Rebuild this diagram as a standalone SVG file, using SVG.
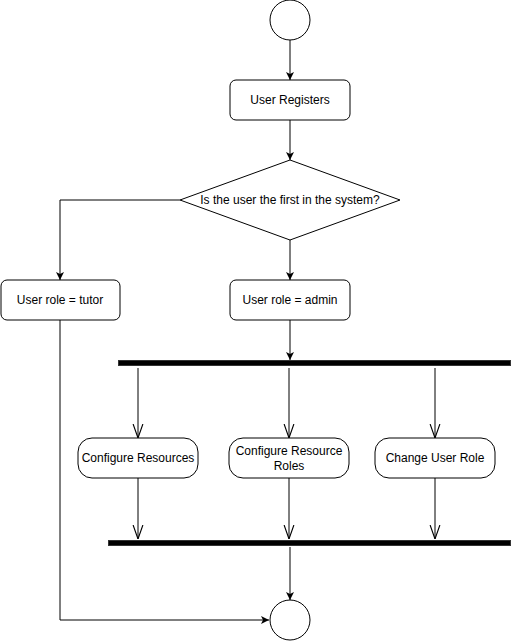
<svg xmlns="http://www.w3.org/2000/svg" width="513" height="641" viewBox="0 0 513 641">
<style>
.n{fill:#fff;stroke:#000;stroke-width:1}
.t{font-family:"Liberation Sans",Arial,sans-serif;font-size:12px;fill:#000;text-anchor:middle}
.c{fill:none;stroke:#000;stroke-width:1}
.bar{fill:#000;stroke:#333;stroke-width:1}
</style>
<defs>
<marker id="f" viewBox="0 0 10 10" refX="10" refY="5" markerWidth="8" markerHeight="8" markerUnits="userSpaceOnUse" orient="auto">
<path d="M0,0 L10,5 L0,10 L2.5,5 Z" fill="#000"/>
</marker>
<marker id="o" viewBox="0 0 10 10" refX="10" refY="5" markerWidth="14" markerHeight="14" markerUnits="userSpaceOnUse" orient="auto">
<path d="M0,1.5 L10,5 L0,8.5" fill="none" stroke="#000" stroke-width="0.8"/>
</marker>
</defs>
<g id="connectors">
<path class="c" d="M290,40 V80" marker-end="url(#f)"/>
<path class="c" d="M290,120 V160" marker-end="url(#f)"/>
<path class="c" d="M180,200 H60 V280" marker-end="url(#f)"/>
<path class="c" d="M290,240 V280" marker-end="url(#f)"/>
<path class="c" d="M290,320 V360" marker-end="url(#f)"/>
<path class="c" d="M138,368 V438" marker-end="url(#o)"/>
<path class="c" d="M289,368 V438" marker-end="url(#o)"/>
<path class="c" d="M435,368 V438" marker-end="url(#o)"/>
<path class="c" d="M138,478 V539" marker-end="url(#o)"/>
<path class="c" d="M289,478 V539" marker-end="url(#o)"/>
<path class="c" d="M435,478 V539" marker-end="url(#o)"/>
<path class="c" d="M290,547 V600" marker-end="url(#f)"/>
<path class="c" d="M60,320 V620 H269" marker-end="url(#f)"/>
</g>
<g id="start"><circle class="n" cx="290" cy="20" r="20"/></g>
<g id="register"><rect class="n" x="230" y="80" width="120" height="40" rx="6"/><text class="t" x="290" y="104">User Registers</text></g>
<g id="decision"><path class="n" d="M290,160 L400,200 L290,240 L180,200 Z"/><text class="t" x="290" y="204">Is the user the first in the system?</text></g>
<g id="tutor"><rect class="n" x="1" y="280" width="119" height="40" rx="6"/><text class="t" x="60" y="304">User role = tutor</text></g>
<g id="admin"><rect class="n" x="230" y="280" width="120" height="40" rx="6"/><text class="t" x="290" y="304">User role = admin</text></g>
<g id="fork"><rect class="bar" x="118.5" y="360.5" width="392" height="5"/></g>
<g id="confres"><rect class="n" x="78" y="438" width="120" height="40" rx="14"/><text class="t" x="138" y="462">Configure Resources</text></g>
<g id="confroles"><rect class="n" x="229" y="438" width="120" height="40" rx="14"/><text class="t" x="289" y="455">Configure Resource</text><text class="t" x="289" y="470">Roles</text></g>
<g id="changerole"><rect class="n" x="375" y="438" width="120" height="40" rx="14"/><text class="t" x="435" y="462">Change User Role</text></g>
<g id="join"><rect class="bar" x="108.5" y="540.5" width="402" height="5"/></g>
<g id="end"><circle class="n" cx="290" cy="620" r="20"/></g>
</svg>
